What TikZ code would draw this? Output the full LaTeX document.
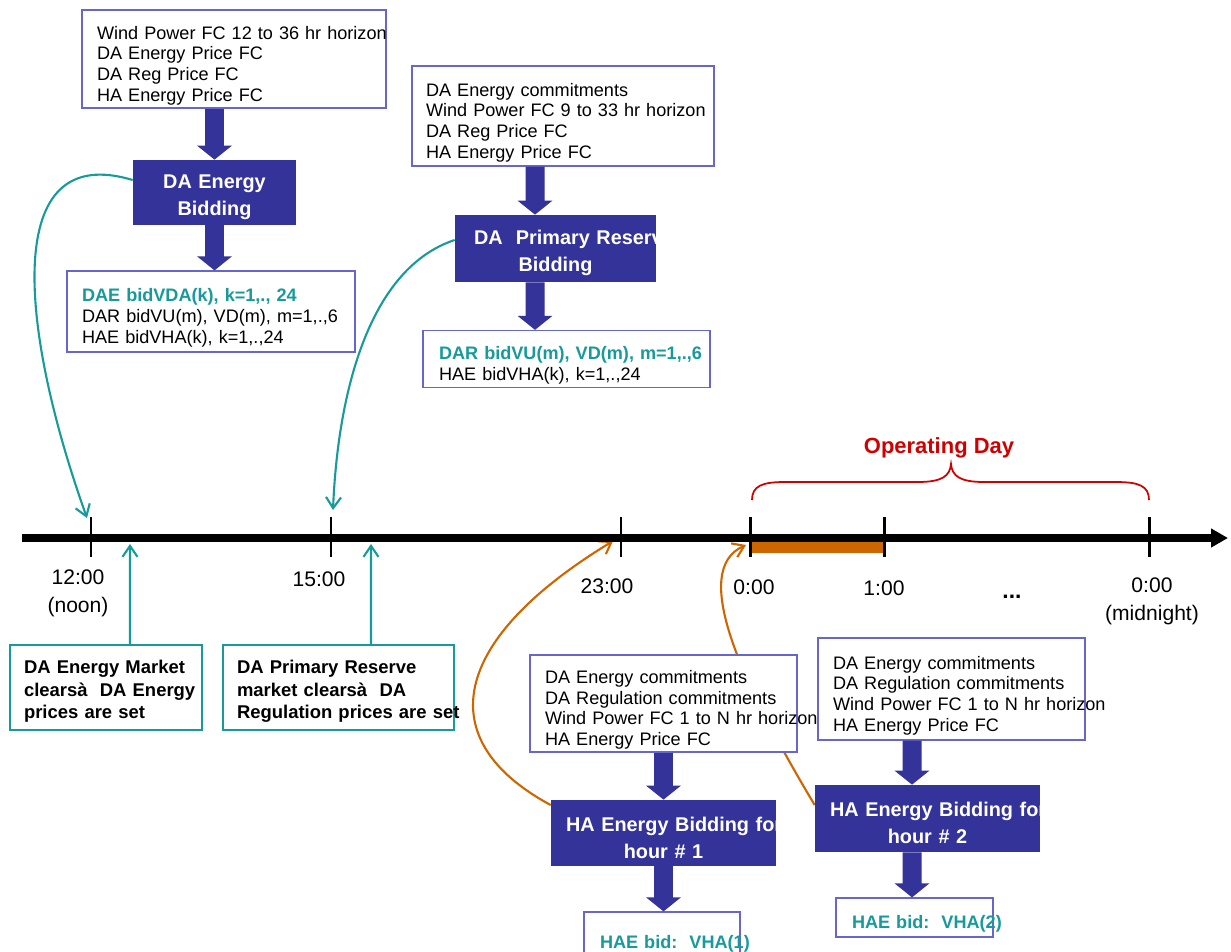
\documentclass[tikz,border=0pt]{standalone}
\usepackage{fontspec}
\setmainfont{Liberation Sans}
\usetikzlibrary{positioning}
\usetikzlibrary{calc}
\usetikzlibrary{arrows.meta}
\definecolor{bidblue}{RGB}{51,51,153}
\definecolor{clrteal}{RGB}{24,154,154}
\definecolor{haorange}{RGB}{204,102,0}
\definecolor{opred}{RGB}{208,0,0}
\definecolor{boxline}{RGB}{102,102,204}
\pgfdeclarelayer{bg}
\pgfsetlayers{bg,main}

\begin{document}
\begin{tikzpicture}[
    x=0.02cm, y=-0.02cm,
    inbox/.style={draw=boxline, fill=white, line width=0.7pt, align=left, inner xsep=0.3cm, inner ysep=0pt, font=\fontsize{10.3}{11.8}\selectfont, execute at begin node={\rule{0pt}{0.52cm}}},
    bidbox/.style={fill=bidblue, text=white, align=center, inner ysep=0pt, font=\bfseries\fontsize{11.3}{15.4}\selectfont, execute at begin node={\rule{0pt}{0.47cm}}},
    clearbox/.style={draw=clrteal, line width=1pt, fill=white, align=left, inner xsep=0.28cm, inner ysep=0pt, font=\bfseries\fontsize{10.5}{12.8}\selectfont, execute at begin node={\rule{0pt}{0.43cm}}},
    tlabel/.style={align=center, font=\fontsize{12}{16}\selectfont},
    blockarrow/.style={draw=bidblue, line width=0.38cm, -{Triangle[width=0.68cm,length=0.28cm]}},
    clearlink/.style={draw=clrteal, line width=1.2pt, -{Straight Barb[length=0.22cm,width=0.3cm]}},
    halink/.style={draw=haorange, line width=1.2pt, -{Straight Barb[length=0.22cm,width=0.3cm]}},
    tickmark/.style={line width=1.7pt}
]
    \useasboundingbox (0,0) rectangle (1231,951);
    \clip (0,0) rectangle (1231,951);

    % time axis
    \fill[haorange] (750,542) rectangle (884,553);
    \coordinate (tlstart) at (22,538);
    \coordinate (tlend) at (1228,538);
    \draw[line width=0.15cm, -{Triangle[width=0.36cm,length=0.34cm]}] (tlstart) -- (tlend);
    \draw[tickmark] (91,517) -- (91,557);
    \draw[tickmark] (331,517) -- (331,557);
    \draw[tickmark] (621,517) -- (621,557);
    \draw[tickmark] (750,517) -- (750,557);
    \draw[tickmark] (884,517) -- (884,557);
    \draw[tickmark] (1149,517) -- (1149,557);

    \node[tlabel] (lb12) at (78,593) {12:00\\(noon)};
    \node[tlabel] (lb15) at (319,579) {15:00};
    \node[tlabel] (lb23) at (607,586) {23:00};
    \node[tlabel] (lb0) at (754,587) {0:00};
    \node[tlabel] (lb1) at (884,588) {1:00};
    \node[tlabel, anchor=base, font=\bfseries\fontsize{13}{16}\selectfont] (lbdots) at (1012,598) {...};
    \node[tlabel] (lbmid) at (1152,601) {0:00\\(midnight)};

    % operating day
    \node[text=opred, font=\bfseries\fontsize{12.5}{14}\selectfont] (opday) at (939,448) {Operating Day};
    \draw[opred, line width=1pt] (752,500) .. controls (752,486) and (762,482) .. (785,482) -- (918,482)
        .. controls (942,482) and (950,476) .. (951,464) .. controls (952,476) and (960,482) .. (984,482)
        -- (1116,482) .. controls (1139,482) and (1149,486) .. (1149,500);

    % day-ahead energy
    \node[inbox, text width=5.48cm, minimum height=1.96cm] (inDA) at (234,59)
        {\mbox{Wind Power FC 12 to 36 hr horizon}\\DA Energy Price FC\\DA Reg Price FC\\HA Energy Price FC};
    \node[bidbox, text width=2.86cm, inner xsep=0.2cm, minimum height=1.3cm] (bidDA) at (214.5,192.5) {DA Energy\\Bidding};
    \node[inbox, text width=5.16cm, minimum height=1.62cm] (outDA) at (211,311.5)
        {\mbox{\textcolor{clrteal}{\bfseries DAE bidVDA(k), k=1,., 24}}\\\mbox{DAR bidVU(m), VD(m), m=1,.,6}\\\mbox{HAE bidVHA(k), k=1,.,24}};

    % day-ahead primary reserve
    \node[inbox, text width=5.48cm, inner xsep=0.28cm, minimum height=2cm] (inPR) at (563,116)
        {DA Energy commitments\\\mbox{Wind Power FC 9 to 33 hr horizon}\\DA Reg Price FC\\HA Energy Price FC};
    \node[bidbox, text width=3.26cm, inner xsep=0.38cm, minimum height=1.34cm] (bidPR) at (555.5,248.5)
        {\mbox{DA\ \ Primary Reserve}\\Bidding};
    \node[inbox, text width=5.1cm, inner xsep=0.32cm, minimum height=1.14cm] (outPR) at (566.5,359)
        {\mbox{\textcolor{clrteal}{\bfseries DAR bidVU(m), VD(m), m=1,.,6}}\\\mbox{HAE bidVHA(k), k=1,.,24}};

    % market clearing
    \node[clearbox, text width=3.28cm, minimum height=1.7cm] (clrDA) at (106,687.5)
        {DA Energy Market\\\mbox{clearsà\ \ DA Energy}\\prices are set};
    \node[clearbox, text width=4.06cm, minimum height=1.7cm] (clrPR) at (338.5,687.5)
        {DA Primary Reserve\\market clearsà\ \ DA\\\mbox{Regulation prices are set}};

    % hour-ahead bidding
    \node[inbox, text width=4.74cm, minimum height=1.94cm] (inH1) at (663.5,703.5)
        {DA Energy commitments\\DA Regulation commitments\\\mbox{Wind Power FC 1 to N hr horizon}\\HA Energy Price FC};
    \node[bidbox, text width=3.9cm, inner xsep=0.3cm, minimum height=1.32cm] (bidH1) at (663.5,833)
        {\mbox{HA Energy Bidding for}\\hour \# 1};
    \node[inbox, text width=2.48cm, inner xsep=0.32cm, minimum height=1cm, execute at begin node={}] (outH1) at (662,937)
        {\mbox{\textcolor{clrteal}{\bfseries HAE bid:\ \ VHA(1)}}};

    \node[inbox, text width=4.74cm, minimum height=2.04cm] (inH2) at (951.5,689)
        {DA Energy commitments\\DA Regulation commitments\\\mbox{Wind Power FC 1 to N hr horizon}\\HA Energy Price FC};
    \node[bidbox, text width=3.9cm, inner xsep=0.3cm, minimum height=1.34cm] (bidH2) at (927.5,818.5)
        {\mbox{HA Energy Bidding for}\\hour \# 2};
    \node[inbox, text width=2.5cm, inner xsep=0.32cm, minimum height=0.78cm, execute at begin node={}] (outH2) at (914.5,917.5)
        {\mbox{\textcolor{clrteal}{\bfseries HAE bid:\ \ VHA(2)}}};

    % block arrows
    \draw[blockarrow] (inDA.south -| bidDA.north) -- (bidDA.north);
    \draw[blockarrow] (bidDA.south) -- (outDA.north -| bidDA.south);
    \draw[blockarrow] ([xshift=-0.56cm]inPR.south) -- ([xshift=-0.41cm]bidPR.north);
    \draw[blockarrow] ([xshift=-0.41cm]bidPR.south) -- ([xshift=-0.63cm]outPR.north);
    \draw[blockarrow] (inH1.south) -- (bidH1.north);
    \draw[blockarrow] (bidH1.south) -- (outH1.north -| bidH1.south);
    \draw[blockarrow] ([xshift=-0.79cm]inH2.south) -- ([xshift=-0.31cm]bidH2.north);
    \draw[blockarrow] ([xshift=-0.31cm]bidH2.south) -- ([xshift=-0.05cm]outH2.north);

    % links to the time axis
    \coordinate (hit12) at (87,518);
    \coordinate (hit15) at (333,510);
    \coordinate (hit23) at (613,541);
    \coordinate (hit00) at (746,545);
    \coordinate (clr12) at (130,544);
    \coordinate (clr15) at (371,544);
    \begin{pgfonlayer}{bg}
        \draw[clearlink] ([yshift=0.25cm]bidDA.west) .. controls (0,140) and (20,330) .. (hit12);
        \draw[clearlink] ([yshift=0.17cm]bidPR.west) .. controls (370,268) and (338,390) .. (hit15);
        \draw[halink] ([yshift=0.56cm]bidH1.west) .. controls (430,740) and (450,640) .. (hit23);
        \draw[halink] ([yshift=0.27cm]bidH2.west) .. controls (740,680) and (690,570) .. (hit00);
    \end{pgfonlayer}
    \draw[clearlink] ([xshift=0.48cm]clrDA.north) -- (clr12);
    \draw[clearlink] ([xshift=0.65cm]clrPR.north) -- (clr15);
\end{tikzpicture}
\end{document}
